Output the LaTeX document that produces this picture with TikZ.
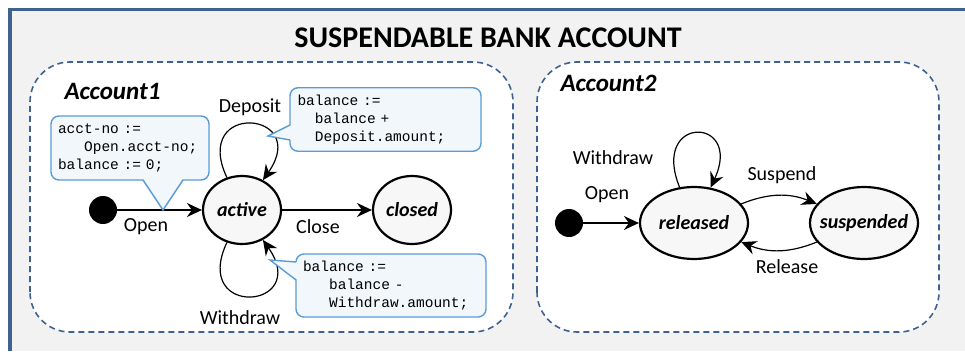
\documentclass[tikz,border=0pt]{standalone}
\usepackage{fontspec}
\setmainfont{Carlito}
\newfontfamily\codefont{Liberation Mono}
\usetikzlibrary{arrows.meta,positioning,shapes.geometric}
\definecolor{framebl}{HTML}{3F6190}
\definecolor{notebl}{HTML}{5B9BD5}
\definecolor{notefill}{HTML}{F2F7FC}
\definecolor{panelgray}{HTML}{F2F2F2}
\definecolor{statefill}{HTML}{F7F7F7}
\newcommand{\sname}[1]{\makebox[0pt]{#1}}
\tikzset{%
statenode/.style={ellipse, draw=black, line width=2.2pt, fill=statefill, inner sep=0pt,
  font=\fontsize{20}{24}\selectfont\bfseries\itshape},
initnode/.style={circle, fill=black, minimum size=28pt, inner sep=0pt},
tr/.style={draw=black, line width=1.2pt, -{Stealth[length=15pt,width=14pt,inset=5pt]}},
lbl/.style={font=\fontsize{20}{24}\selectfont, inner sep=0pt},
regionbox/.style={draw=framebl, line width=1.6pt, dash pattern=on 6pt off 4pt,
  rounded corners=40pt, fill=white},
notebox/.style={draw=notebl, line width=1.4pt, fill=notefill, rounded corners=8pt,
  inner sep=7pt, align=left, font=\codefont\fontsize{14.5}{18}\selectfont},
tail/.style={draw=notebl, line width=1.4pt, line join=miter}
}

\begin{document}
\begin{tikzpicture}[x=1pt, y=1pt]
  \useasboundingbox (0,0) rectangle (965,351);
  % panel
  \fill[white] (0,0) rectangle (965,351);
  \fill[panelgray] (10,0) rectangle (965,341.5);
  \draw[framebl, line width=3.5pt] (10,0) -- (10,341.5) -- (965,341.5);
  \node[font=\fontsize{30}{36}\selectfont\bfseries] (title) at (488,313) {SUSPENDABLE BANK ACCOUNT};

  % regions
  \draw[regionbox] (30,19) rectangle (513,289);
  \draw[regionbox] (537,19) rectangle (939,289);
  \node[anchor=base west, font=\fontsize{25}{29}\selectfont\bfseries\itshape] (acc1) at (61,251) {Account1};
  \node[anchor=base west, font=\fontsize{25}{29}\selectfont\bfseries\itshape] (acc2) at (557,259) {Account2};

  % Account1
  \node[initnode] (init1) at (103,141) {};
  \node[statenode, minimum width=78pt, minimum height=68pt] (active) at (242,141) {\sname{active}};
  \node[statenode, minimum width=78pt, minimum height=68pt] (closed) at (412,141) {\sname{closed}};
  \path[tr] (init1) edge (active);
  \path[tr] (active) edge (closed);
  \path[tr] (active) edge[out=115, in=55, looseness=6] (active);
  \path[tr] (active) edge[out=245, in=305, looseness=6] (active);
  \node[lbl] (lopen1) at (146,124) {Open};
  \node[lbl] (lclose) at (318,124) {Close};
  \node[lbl] (ldeposit) at (250,244) {Deposit};
  \node[lbl] (lwithdraw1) at (240,33) {Withdraw};

  % notes
  \node[notebox, minimum width=158pt, minimum height=64pt, text width=144pt] (note1) at (130,203)
    {acct-no :=\\\phantom{bal}Open.acct-no;\\balance := 0;};
  \fill[notefill] (143,172.5) -- (163,141) -- (183,172.5) -- cycle;
  \draw[tail] (143,171) -- (163,141) -- (183,171);

  \node[notebox, minimum width=191pt, minimum height=63pt, text width=176pt] (note2) at (385.5,231.5)
    {balance :=\\\phantom{ba}balance +\\\phantom{ba}Deposit.amount;};
  \fill[notefill] (291.5,226) -- (268,215) -- (291.5,211) -- cycle;
  \draw[tail] (290,226) -- (268,215) -- (290,211);

  \node[notebox, minimum width=190pt, minimum height=63pt, text width=176pt] (note3) at (391,65.5)
    {balance :=\\\phantom{bal}balance -\\\phantom{bal}Withdraw.amount;};
  \fill[notefill] (297.5,89) -- (270,91) -- (297.5,71) -- cycle;
  \draw[tail] (296,89) -- (270,91) -- (296,71);

  % Account2
  \node[initnode] (init2) at (569,128) {};
  \node[statenode, minimum width=108pt, minimum height=72pt] (released) at (694,128) {\sname{released}};
  \node[statenode, minimum width=108pt, minimum height=72pt] (suspended) at (864,128) {\sname{suspended}};
  \path[tr] (init2) edge (released);
  \path[tr] (released) edge[out=112, in=65, looseness=6.5] (released);
  \path[tr] (released) edge[bend left=22] (suspended);
  \path[tr] (suspended) edge[bend left=22] (released);
  \node[lbl] (lopen2) at (607,156) {Open};
  \node[lbl] (lwithdraw2) at (613,193) {Withdraw};
  \node[lbl] (lsuspend) at (782,176) {Suspend};
  \node[lbl] (lrelease) at (787,84) {Release};
\end{tikzpicture}
\end{document}
